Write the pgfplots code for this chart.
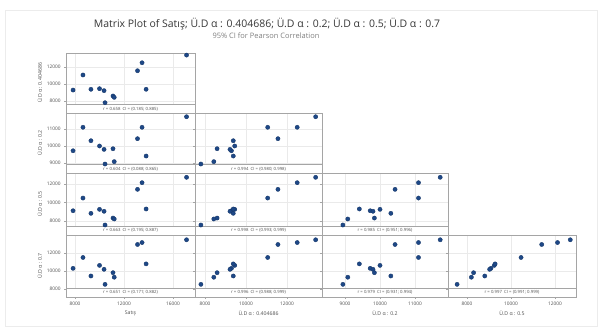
\documentclass[border=0pt]{standalone}
\usepackage{fontspec}
\setmainfont{Open Sans}
\usepackage{pgfplots}
\pgfplotsset{compat=1.18}
\usepackage{pgfplotstable}
\definecolor{pt}{RGB}{30,72,135}
\definecolor{fr}{RGB}{165,165,165}
\definecolor{gr}{RGB}{234,234,234}
\definecolor{tx}{RGB}{80,80,80}
\pgfplotstableread{
S A B C D
7840 9290 9720 9090 10300
8650 11060 11100 10460 11520
9300 9380 10310 8810 9440
10000 9450 10000 9240 10630
10370 9220 9800 9030 10190
10450 7800 8940 7550 8500
11100 8590 9840 8300 9810
11200 8430 9080 8200 9300
13100 11560 10430 11400 12980
13470 12500 11100 12120 13200
13800 9380 9410 9280 10800
17100 13400 11720 12700 13510
}\data
\pgfplotsset{
 mp/.style={scale only axis, anchor=north west, axis line style={fr}, grid=major,
  grid style={gr, line width=0.4pt}, tick style={fr}, tick align=outside,
  major tick length=2bp, xtick pos=bottom, ytick pos=left,
  ticklabel style={font=\fontsize{4.8}{5.5}\selectfont, text=tx},
  /pgf/number format/assume math mode=true, scaled ticks=false,
  /pgf/number format/set thousands separator={},
  label style={font=\fontsize{5.2}{6}\selectfont, text=tx},
  xlabel style={yshift=2bp}, ylabel style={yshift=-2bp}},
 pl/.style={only marks, mark=*, mark size=2.1bp, mark options={fill=pt, draw=pt!80!black}},
 c1/.style={xmin=7265, xmax=17790, xtick={8000,12000,16000}, width=129bp},
 c2/.style={xmin=7512, xmax=13710, xtick={8000,10000,12000}, width=127bp},
 c3/.style={xmin=8343, xmax=11943, xtick={9000,10000,11000}, width=126bp},
 c4/.style={xmin=7136, xmax=12960, xtick={8000,10000,12000}, width=128bp},
 r1/.style={ymin=6590, ymax=13646, ytick={8000,10000,12000}, height=60bp},
 r2/.style={ymin=8412, ymax=11940, ytick={9000,10000,11000}, height=60bp},
 r3/.style={ymin=6470, ymax=13165, ytick={8000,10000,12000}, height=62bp},
 r4/.style={ymin=7078, ymax=14046, ytick={8000,10000,12000}, height=62bp},
 nox/.style={xticklabels={,,,}}, noy/.style={yticklabels={,,,}},
}
\newcommand\band[1]{%
 \fill[white] (rel axis cs:0,0) rectangle (rel axis cs:1,0.14);
 \draw[fr] (rel axis cs:0,0) rectangle (rel axis cs:1,0.14);
 \node[font=\fontsize{4.3}{5}\selectfont, text=tx] at (rel axis cs:0.5,0.07) {#1};}
\begin{document}
\begin{tikzpicture}
\fill[white] (0,0) rectangle (598bp,-327bp);
\draw[gray!15] (5bp,-10bp) rectangle (597.5bp,-326bp);
\node[font=\fontsize{10.5}{12}\selectfont, text={rgb,255:red,55;green,55;blue,55}] at (267bp,-24bp) {Matrix Plot of Satış; Ü.D α : 0.404686; Ü.D α : 0.2; Ü.D α : 0.5; Ü.D α : 0.7};
\node[font=\fontsize{7.5}{9}\selectfont, text=gray] at (266bp,-36bp) {95\% CI for Pearson Correlation};
% row 1
\begin{axis}[mp, c1, r1, nox, at={(66bp,-53bp)}, ylabel={Ü.D α : 0.404686}]
\addplot[pl] table[x=S,y=A] {\data};
\band{r = 0.658 \ CI = (0.185; 0.885)}
\end{axis}
% row 2
\begin{axis}[mp, c1, r2, nox, at={(66bp,-113bp)}, ylabel={Ü.D α : 0.2}]
\addplot[pl] table[x=S,y=B] {\data};
\band{r = 0.604 \ CI = (0.088; 0.865)}
\end{axis}
\begin{axis}[mp, c2, r2, nox, noy, at={(195bp,-113bp)}]
\addplot[pl] table[x=A,y=B] {\data};
\band{r = 0.994 \ CI = (0.980; 0.998)}
\end{axis}
% row 3
\begin{axis}[mp, c1, r3, nox, at={(66bp,-173bp)}, ylabel={Ü.D α : 0.5}]
\addplot[pl] table[x=S,y=C] {\data};
\band{r = 0.663 \ CI = (0.195; 0.887)}
\end{axis}
\begin{axis}[mp, c2, r3, nox, noy, at={(195bp,-173bp)}]
\addplot[pl] table[x=A,y=C] {\data};
\band{r = 0.998 \ CI = (0.993; 0.999)}
\end{axis}
\begin{axis}[mp, c3, r3, nox, noy, at={(322bp,-173bp)}]
\addplot[pl] table[x=B,y=C] {\data};
\band{r = 0.985 \ CI = (0.951; 0.996)}
\end{axis}
% row 4
\begin{axis}[mp, c1, r4, at={(66bp,-235bp)}, ylabel={Ü.D α : 0.7}, xlabel={Satış}]
\addplot[pl] table[x=S,y=D] {\data};
\band{r = 0.651 \ CI = (0.171; 0.882)}
\end{axis}
\begin{axis}[mp, c2, r4, noy, at={(195bp,-235bp)}, xlabel={Ü.D α : 0.404686}]
\addplot[pl] table[x=A,y=D] {\data};
\band{r = 0.996 \ CI = (0.988; 0.999)}
\end{axis}
\begin{axis}[mp, c3, r4, noy, at={(322bp,-235bp)}, xlabel={Ü.D α : 0.2}]
\addplot[pl] table[x=B,y=D] {\data};
\band{r = 0.979 \ CI = (0.931; 0.994)}
\end{axis}
\begin{axis}[mp, c4, r4, noy, at={(448bp,-235bp)}, xlabel={Ü.D α : 0.5}]
\addplot[pl] table[x=C,y=D] {\data};
\band{r = 0.997 \ CI = (0.991; 0.999)}
\end{axis}
\end{tikzpicture}
\end{document}
